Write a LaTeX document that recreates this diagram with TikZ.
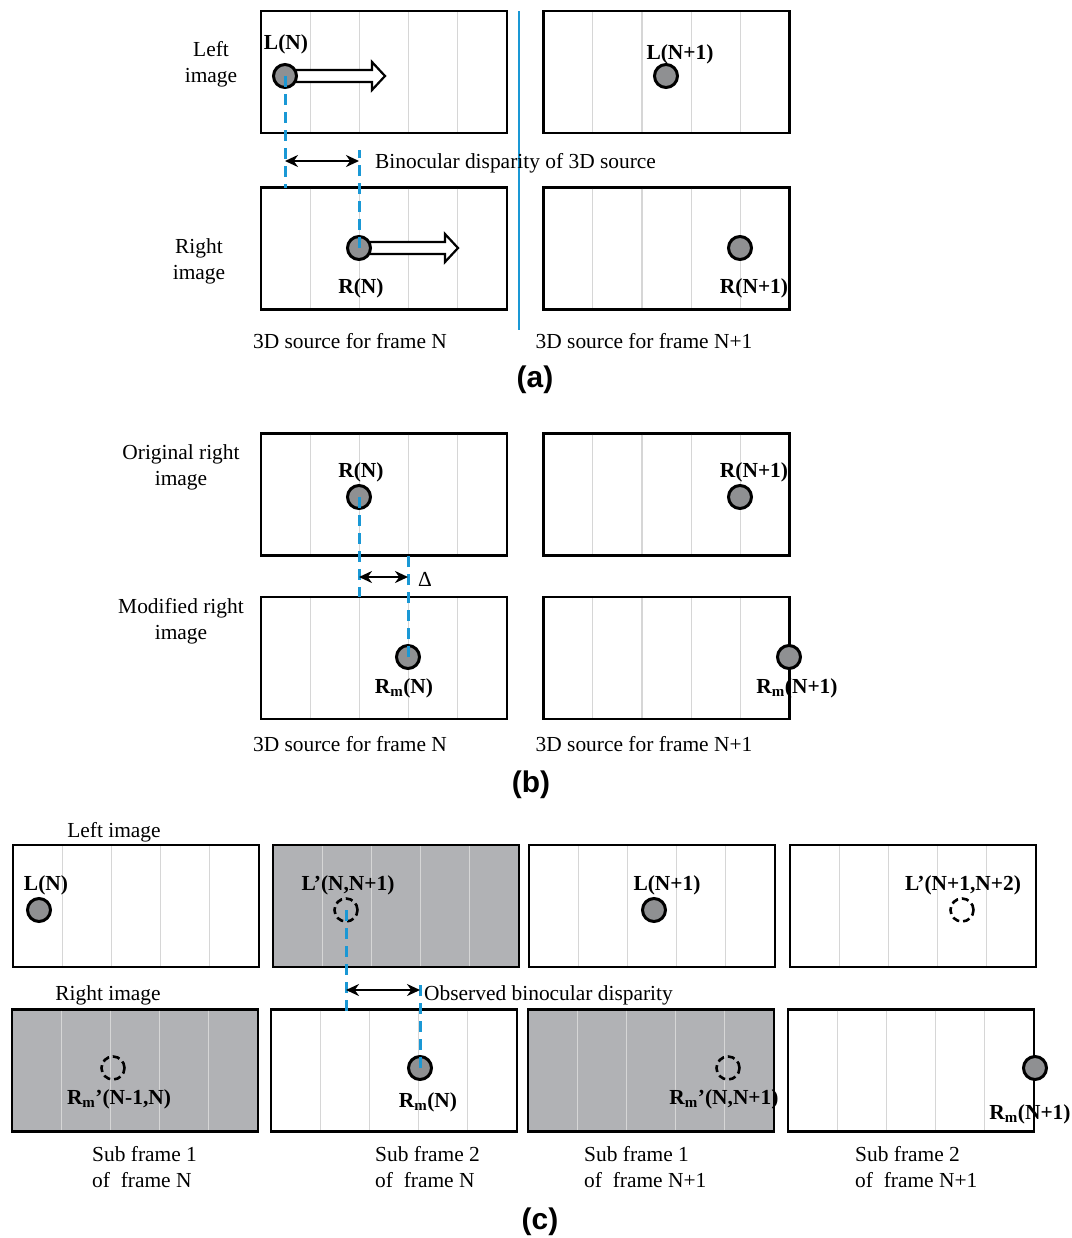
\documentclass[tikz,border=0pt]{standalone}
\usepackage{fontspec}
\setmainfont{Liberation Serif}
\setsansfont{Liberation Sans}
\usetikzlibrary{arrows.meta,positioning,calc}
\definecolor{framegray}{HTML}{B1B2B5}
\definecolor{dotgray}{HTML}{8F9092}
\definecolor{gridgray}{HTML}{D6D6D6}
\definecolor{dispblue}{HTML}{1A98D5}

\begin{document}
\begin{tikzpicture}[x=1bp,y=-1bp,
    frm/.style={draw, line width=2.2bp, minimum width=246bp, minimum height=122bp,
                inner sep=0pt, outer sep=0pt, fill=#1},
    frm/.default=white,
    grd/.style={gridgray, line width=1.2bp, shorten <=1.1bp, shorten >=1.1bp},
    dot/.style={circle, draw, line width=3bp, fill=dotgray, minimum size=23bp, inner sep=0pt},
    ghost/.style={circle, draw, line width=2.6bp, dash pattern=on 7bp off 4bp,
                  minimum size=23bp, inner sep=0pt},
    lbl/.style={font=\fontsize{21.5}{26}\selectfont\bfseries, inner sep=0pt, yshift=-2bp},
    txt/.style={font=\fontsize{21.5}{26}\selectfont, inner sep=0pt, align=center, yshift=-2bp},
    panellbl/.style={font=\fontsize{30}{34}\selectfont\sffamily\bfseries, inner sep=0pt, yshift=-2bp},
    disp/.style={dispblue, line width=3bp, dash pattern=on 11bp off 7bp},
    dbl/.style={{Stealth[length=13bp,width=12bp]}-{Stealth[length=13bp,width=12bp]},
                line width=2.2bp},
    hollow/.style={draw, line width=2.2bp, fill=white}
  ]
  \useasboundingbox (0,0) rectangle (1072,1238);

  % (a) 3D source
  \node[frm] (aLN)  at (384,72)    {};
  \node[frm] (aLN1) at (666.5,72)  {};
  \node[frm] (aRN)  at (384,248.5) {};
  \node[frm] (aRN1) at (666.5,248.5) {};
  % (b) modified right image
  \node[frm] (bON)  at (384,494.5)   {};
  \node[frm] (bON1) at (666.5,494.5) {};
  \node[frm] (bMN)  at (384,658)     {};
  \node[frm] (bMN1) at (666.5,658)   {};
  % (c) sub frames
  \node[frm]           (cL1) at (136,906) {};
  \node[frm=framegray] (cL2) at (396,906) {};
  \node[frm]           (cL3) at (652,906) {};
  \node[frm]           (cL4) at (913,906) {};
  \node[frm=framegray] (cR1) at (135,1070.5) {};
  \node[frm]           (cR2) at (394,1070.5) {};
  \node[frm=framegray] (cR3) at (651,1070.5) {};
  \node[frm]           (cR4) at (911,1070.5) {};

  \foreach \f in {aLN,aLN1,aRN,aRN1,bON,bON1,bMN,bMN1,cL1,cL2,cL3,cL4,cR1,cR2,cR3,cR4}
    \foreach \i in {1,...,4}
      \draw[grd] ($(\f.north west)!\i/5!(\f.north east)$) -- ($(\f.south west)!\i/5!(\f.south east)$);

  \draw[dispblue, line width=1.5bp] (519,11) -- (519,330);

  % panel (a)
  \coordinate (pLN) at (285,76);
  \coordinate (pRN) at (359,248);
  \draw[hollow] (pLN) ++(0,-6) -- ++(87,0) -- ++(0,-8) -- ++(13,14) -- ++(-13,14)
    -- ++(0,-8) -- ++(-87,0) -- cycle;
  \draw[hollow] (pRN) ++(0,-6) -- ++(86,0) -- ++(0,-8) -- ++(13,14) -- ++(-13,14)
    -- ++(0,-8) -- ++(-86,0) -- cycle;
  \node[dot] (dLN)  at (pLN) {};
  \node[dot] (dLN1) at (666,76) {};
  \node[dot] (dRN)  at (pRN) {};
  \node[dot] (dRN1) at (740,248) {};
  \node[lbl] at (286,42)  {L(N)};
  \node[lbl] at (680,52)  {L(N+1)};
  \node[lbl] at (361,286) {R(N)};
  \node[lbl] at (754,286) {R(N+1)};

  \coordinate (aTop) at (359,150);
  \coordinate (aMid) at (0,161);
  \draw[disp] (dLN.center) -- (dLN.center |- aRN.north);
  \draw[disp] (dRN.center) -- (aTop);
  \draw[dbl] (dLN |- aMid) -- (dRN |- aMid) coordinate (aDispR);
  \node[txt, anchor=west, right=16bp of aDispR] {Binocular disparity of 3D source};

  \node[txt] at (211,62)  {Left\\image};
  \node[txt] at (199,259) {Right\\image};
  \node[txt] at (350,339) {3D source for frame N};
  \node[txt] at (644,339) {3D source for frame N+1};
  \node[panellbl] at (535,378) {(a)};

  % panel (b)
  \node[dot] (dbRN)  at (359,497) {};
  \node[dot] (dbRN1) at (740,497) {};
  \node[dot] (dbMN)  at (408,657) {};
  \node[dot] (dbMN1) at (789,657) {};
  \node[lbl] at (361,470) {R(N)};
  \node[lbl] at (754,470) {R(N+1)};
  \node[lbl] at (404,686) {R\textsubscript{m}(N)};
  \node[lbl] at (797,686) {R\textsubscript{m}(N+1)};

  \coordinate (bMid) at (0,577);
  \draw[disp] (dbRN.center) -- (dbRN.center |- bMN.north);
  \draw[disp] (dbMN.center) -- (dbMN.center |- bON.south);
  \draw[dbl] (dbRN |- bMid) -- (dbMN |- bMid) coordinate (bDispR);
  \node[txt, right=10bp of bDispR] {Δ};

  \node[txt] at (181,465) {Original right\\image};
  \node[txt] at (181,619) {Modified right\\image};
  \node[txt] at (350,742) {3D source for frame N};
  \node[txt] at (644,742) {3D source for frame N+1};
  \node[panellbl] at (531,783) {(b)};

  % panel (c)
  \node[dot]   (dcL1) at (39,910)  {};
  \node[ghost] (dcL2) at (346,910) {};
  \node[dot]   (dcL3) at (654,910) {};
  \node[ghost] (dcL4) at (962,910) {};
  \node[ghost] (dcR1) at (113,1068)  {};
  \node[dot]   (dcR2) at (420,1068)  {};
  \node[ghost] (dcR3) at (728,1068)  {};
  \node[dot]   (dcR4) at (1035,1068) {};
  \node[lbl] at (46,883)  {L(N)};
  \node[lbl] at (348,883) {L'(N,N+1)};
  \node[lbl] at (667,883) {L(N+1)};
  \node[lbl] at (963,883) {L'(N+1,N+2)};
  \node[lbl] at (119,1097) {R\textsubscript{m}'(N-1,N)};
  \node[lbl] at (428,1100) {R\textsubscript{m}(N)};
  \node[lbl] at (724,1097) {R\textsubscript{m}'(N,N+1)};
  \node[lbl] at (1030,1112) {R\textsubscript{m}(N+1)};

  \coordinate (cLow) at (0,1013);
  \coordinate (cTop) at (0,978);
  \coordinate (cMid) at (0,990);
  \draw[disp] (dcL2.center) -- (dcL2.center |- cLow);
  \draw[disp] (dcR2.center) -- (dcR2.center |- cTop);
  \draw[dbl] (dcL2 |- cMid) -- (dcR2 |- cMid) coordinate (cDispR);
  \node[txt, right=4bp of cDispR, yshift=-3bp] {Observed binocular disparity};

  \node[txt] at (114,830) {Left image};
  \node[txt] at (108,993) {Right image};
  \node[txt, align=left, anchor=west] at (92,1165)  {Sub frame 1\\of~ frame N};
  \node[txt, align=left, anchor=west] at (375,1165) {Sub frame 2\\of~ frame N};
  \node[txt, align=left, anchor=west] at (584,1165) {Sub frame 1\\of~ frame N+1};
  \node[txt, align=left, anchor=west] at (855,1165) {Sub frame 2\\of~ frame N+1};
  \node[panellbl] at (540,1220) {(c)};
\end{tikzpicture}
\end{document}
